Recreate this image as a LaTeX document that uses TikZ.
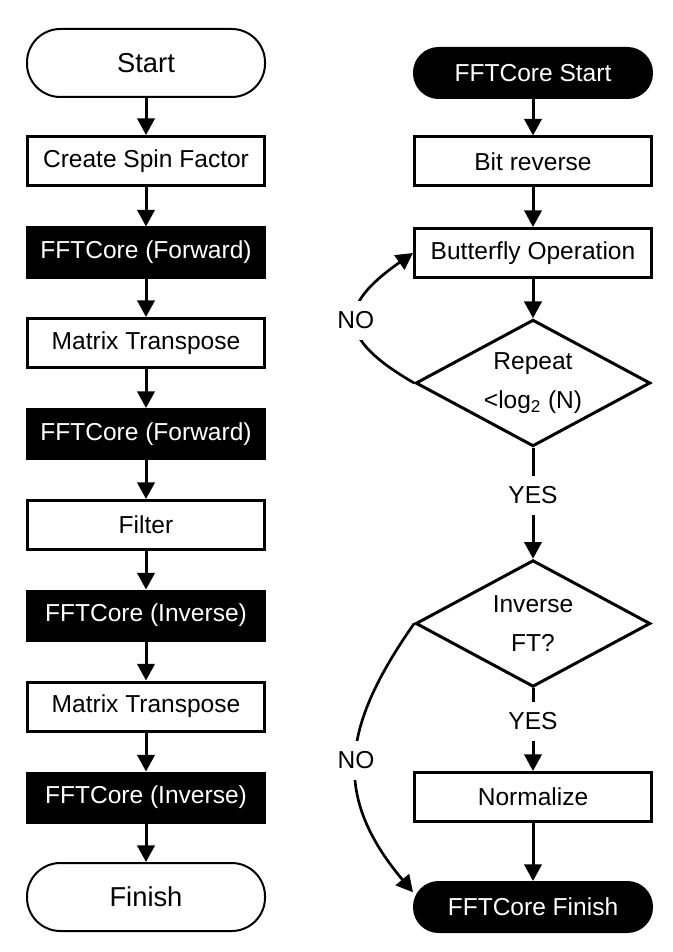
\documentclass[tikz,border=0pt]{standalone}
\usepackage{fontspec}
\setmainfont{Liberation Sans}
\usetikzlibrary{arrows.meta,shapes.geometric}

\begin{document}
\begin{tikzpicture}[x=0.75pt,y=-0.75pt,
      font=\fontsize{18.4}{22}\selectfont,
      box/.style={draw,line width=2.25pt,minimum width=177.75pt,minimum height=36.75pt,inner sep=0pt},
      blackbox/.style={box,fill=black,text=white},
      term/.style={draw,line width=1.5pt,rounded corners=25pt,minimum width=178.5pt,minimum height=51pt,font=\fontsize{20.5}{24}\selectfont},
      blackterm/.style={draw,fill=black,text=white,line width=1.5pt,rounded corners=18.5pt,minimum width=178.5pt,minimum height=37.5pt},
      decision/.style={diamond,draw,line width=2.25pt,shape aspect=1.83,minimum width=176pt,minimum height=95pt,inner sep=0pt,align=center,font=\fontsize{18.4}{29}\selectfont},
      arr/.style={-{Triangle[length=12.5pt,width=13pt]},line width=2.25pt},
      loop/.style={-{Triangle[length=12.5pt,width=13pt]},line width=2pt},
      lbl/.style={fill=white,inner xsep=2pt,inner ysep=8pt}
    ]
    \useasboundingbox (0,0) rectangle (672,952);
    % main program
    \node[term] (start) at (146,63) {Start};
    \node[box] (spin) at (146,161) {Create Spin Factor};
    \node[blackbox] (fwdA) at (146,252.5) {FFTCore (Forward)};
    \node[box] (transA) at (146,343) {Matrix Transpose};
    \node[blackbox] (fwdB) at (146,434) {FFTCore (Forward)};
    \node[box] (filt) at (146,525) {Filter};
    \node[blackbox] (invA) at (146,615.5) {FFTCore (Inverse)};
    \node[box] (transB) at (146,706.5) {Matrix Transpose};
    \node[blackbox] (invB) at (146,797.5) {FFTCore (Inverse)};
    \node[term] (finish) at (146,897) {Finish};
    \draw[arr] (start)--(spin);
    \draw[arr] (spin)--(fwdA);
    \draw[arr] (fwdA)--(transA);
    \draw[arr] (transA)--(fwdB);
    \draw[arr] (fwdB)--(filt);
    \draw[arr] (filt)--(invA);
    \draw[arr] (invA)--(transB);
    \draw[arr] (transB)--(invB);
    \draw[arr] (invB)--(finish);
    % FFTCore
    \node[blackterm] (coreStart) at (533,73) {FFTCore Start};
    \node[box] (bitrev) at (533,161.5) {Bit reverse};
    \node[box] (bfly) at (533,253) {Butterfly Operation};
    \node[decision] (rep) at (533,383) {Repeat\\<log\textsubscript{2} (N)};
    \node[decision] (inv) at (533,623.5) {Inverse\\FT?};
    \node[box] (norm) at (533,797) {Normalize};
    \node[blackterm] (coreFin) at (533,907) {FFTCore Finish};
    \draw[arr] (coreStart)--(bitrev);
    \draw[arr] (bitrev)--(bfly);
    \draw[arr] (bfly)--(rep);
    \draw[arr] (rep)--node[lbl,pos=0.43]{YES}(inv);
    \draw[arr] (inv)--node[lbl,pos=0.40]{YES}(norm);
    \draw[arr] (norm)--(coreFin);
    \draw[loop] (rep.west) to[out=150,in=215,looseness=1.8] node[lbl,pos=0.5]{NO} (bfly.west);
    \draw[loop] (inv.west) to[out=235,in=130,looseness=1.2] node[lbl,pos=0.5]{NO} (coreFin.173);
  \end{tikzpicture}
\end{document}
